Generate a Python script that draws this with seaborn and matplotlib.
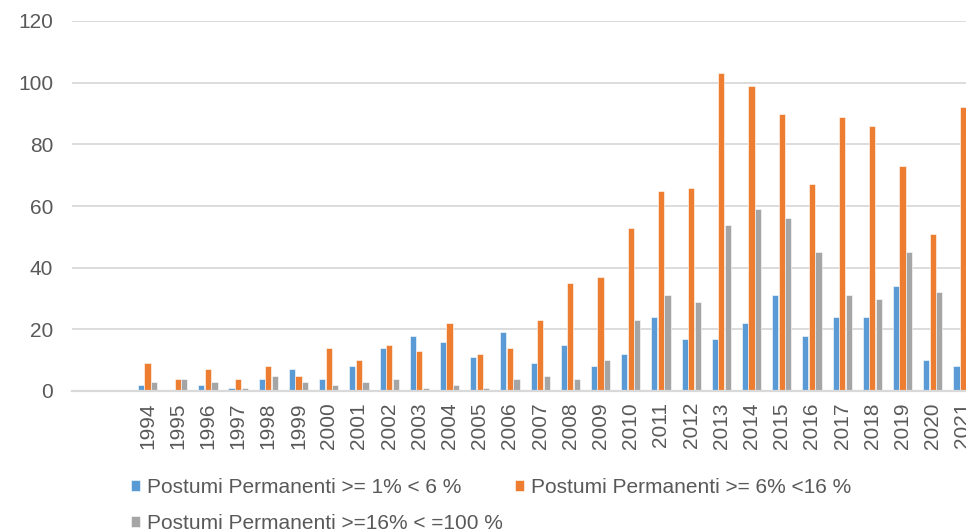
import numpy as np
import pandas as pd
import matplotlib
matplotlib.use("Agg")
import matplotlib.pyplot as plt
import seaborn as sns

years = [str(y) for y in range(1994, 2022)]
series_names = [
    "Postumi Permanenti >= 1% < 6 %",
    "Postumi Permanenti >= 6% <16 %",
    "Postumi Permanenti >=16% < =100 %",
]
low = [2, 0, 2, 1, 4, 7, 4, 8, 14, 18, 16, 11, 19, 9, 15, 8, 12, 24, 17, 17, 22, 31, 18, 24, 24, 34, 10, 8]
mid = [9, 4, 7, 4, 8, 5, 14, 10, 15, 13, 22, 12, 14, 23, 35, 37, 53, 65, 66, 103, 99, 90, 67, 89, 86, 73, 51, 92]
high = [3, 4, 3, 1, 5, 3, 2, 3, 4, 1, 2, 1, 4, 5, 4, 10, 23, 31, 29, 54, 59, 56, 45, 31, 30, 45, 32, np.nan]
yticks = [0, 20, 40, 60, 80, 100, 120]
colors = ["#5b9bd5", "#ed7d31", "#a5a5a5"]

df = pd.DataFrame({
    "year": years * 3,
    "series": [series_names[0]] * len(years) + [series_names[1]] * len(years) + [series_names[2]] * len(years),
    "value": low + mid + high,
})

sns.set_theme(style="white")
plt.rcParams["font.family"] = ["Liberation Sans", "DejaVu Sans"]
txt = "#595959"

fig = plt.figure(figsize=(9.66, 5.31), dpi=100)
ax = fig.add_axes([72 / 966, 1 - 391 / 531, (966 - 72) / 966, (391 - 21) / 531])

sns.barplot(data=df, x="year", y="value", hue="series", order=years,
            hue_order=series_names, palette=colors, saturation=1,
            width=0.65, gap=0.06, edgecolor="white", linewidth=0.4, ax=ax)

ax.set_xlim(-2.5, 27.1)
ax.set_ylim(0, 120)
ax.set_yticks(yticks)
ax.set_yticklabels([str(v) for v in yticks])
ax.set_xlabel("")
ax.set_ylabel("")
ax.grid(axis="y", color="#d9d9d9", linewidth=1.3)
ax.set_axisbelow(True)
for s in ["left", "right", "top"]:
    ax.spines[s].set_visible(False)
ax.spines["bottom"].set_color("#d9d9d9")
ax.spines["bottom"].set_linewidth(1.6)
ax.tick_params(axis="y", length=0, pad=13.5, labelsize=15, labelcolor=txt)
ax.tick_params(axis="x", length=0, pad=8, labelsize=15, labelcolor=txt, rotation=90)

h, l = ax.get_legend_handles_labels()
if ax.get_legend() is not None:
    ax.get_legend().remove()
order = [0, 2, 1]
fig.legend([h[i] for i in order], [l[i] for i in order], ncol=2,
           loc="upper left", bbox_to_anchor=(131 / 966, 1 - 478 / 531),
           frameon=False, fontsize=15, labelcolor=txt,
           handlelength=0.45, handleheight=0.45, handletextpad=0.3,
           columnspacing=0.6, labelspacing=0.8, borderpad=0, borderaxespad=0)

fig.savefig("out.png", dpi=100)
